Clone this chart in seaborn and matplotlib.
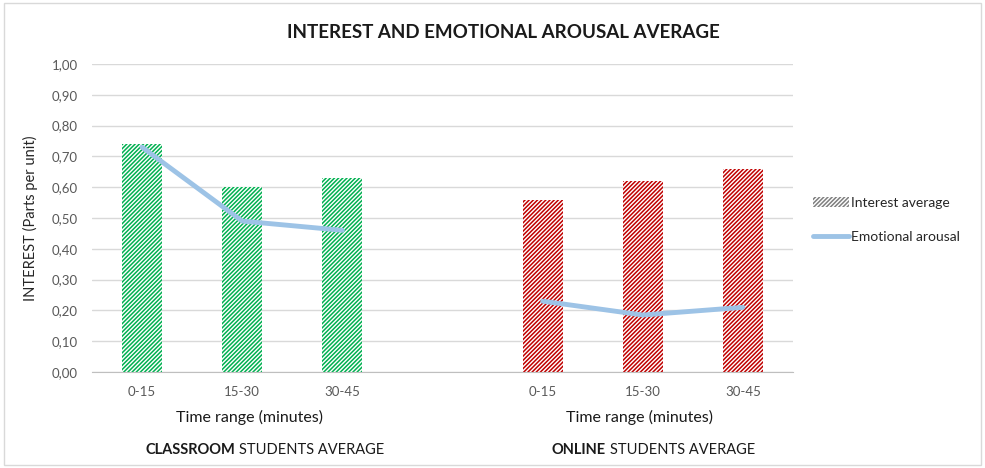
import pandas as pd
import matplotlib.pyplot as plt
import seaborn as sns
from matplotlib.patches import Patch, Rectangle
from matplotlib.lines import Line2D

# data
groups = ["Classroom", "Classroom", "Classroom", "Online", "Online", "Online"]
time_ranges = ["0-15", "15-30", "30-45", "0-15", "15-30", "30-45"]
interest = [0.74, 0.60, 0.63, 0.56, 0.62, 0.66]
arousal = [0.73, 0.49, 0.46, 0.23, 0.185, 0.21]
bar_colors = {"Classroom": "#00B050", "Online": "#C00000"}

df = pd.DataFrame({"group": groups, "time": time_ranges,
                   "interest": interest, "arousal": arousal})
df["slot"] = df["group"] + " " + df["time"]
# empty slot between the two groups
order = list(df["slot"][:3]) + ["gap"] + list(df["slot"][3:])
df["pos"] = [order.index(s) for s in df["slot"]]

sns.set_style("white")
plt.rcParams["font.family"] = ["Lato", "DejaVu Sans"]
plt.rcParams["hatch.linewidth"] = 1.1

fig = plt.figure(figsize=(9.85, 4.68), dpi=100)
ax = fig.add_axes([92 / 985, 1 - 372 / 468, (793 - 92) / 985, (372 - 64) / 468])

sns.barplot(data=df, x="slot", y="interest", order=order, width=0.4, ax=ax,
            color="white")
for bar, g in zip(ax.patches, df["group"]):
    bar.set_facecolor("white")
    bar.set_edgecolor(bar_colors[g])
    bar.set_hatch("////////")
    bar.set_linewidth(0)

sns.lineplot(data=df, x="pos", y="arousal", units="group", estimator=None,
             color="#9DC3E6", linewidth=3.5, ax=ax, legend=False)

ax.set_ylim(0, 1.0)
ax.set_xlim(-0.5, len(order) - 0.5)
ax.set_yticks([i / 10 for i in range(11)])
ax.set_yticklabels([f"{i / 10:.2f}".replace(".", ",") for i in range(11)],
                   color="#595959", fontsize=9.5)
ax.set_xticks(df["pos"])
ax.set_xticklabels(df["time"], color="#595959", fontsize=9.5)
ax.tick_params(axis="both", length=0, pad=10)
ax.grid(axis="y", color="#D9D9D9", linewidth=1)
ax.set_axisbelow(True)
for s in ["top", "right", "left"]:
    ax.spines[s].set_visible(False)
ax.spines["bottom"].set_color("#BFBFBF")
ax.set_xlabel("")
ax.set_ylabel("INTEREST (Parts per unit)", fontsize=10.5, color="#262626", labelpad=10)

fig.text(503 / 985, 1 - 33 / 468, "INTEREST AND EMOTIONAL AROUSAL AVERAGE",
         ha="center", va="center", fontsize=13.5, fontweight="bold", color="#1a1a1a")

for x in [250, 640]:
    fig.text(x / 985, 1 - 417 / 468, "Time range (minutes)", ha="center",
             va="center", fontsize=11.5, color="#1a1a1a")

for x, word in [(146, "CLASSROOM"), (552, "ONLINE")]:
    t = fig.text(x / 985, 1 - 450 / 468, word, ha="left", va="center",
                 fontsize=10.5, fontweight="bold", color="#1a1a1a")
    ax.annotate("STUDENTS AVERAGE", xy=(1, 0.5), xycoords=t, xytext=(2.5, 0),
                textcoords="offset points", va="center", ha="left",
                fontsize=10.5, color="#1a1a1a", annotation_clip=False)

handles = [Patch(facecolor="white", edgecolor="#7F7F7F", hatch="////////",
                 linewidth=0, label="Interest average"),
           Line2D([0], [0], color="#9DC3E6", linewidth=3.5, label="Emotional arousal")]
fig.legend(handles=handles, loc="center left", bbox_to_anchor=(800 / 985, 1 - 220 / 468),
           frameon=False, fontsize=10, labelspacing=1.6, handlelength=2.6,
           handletextpad=0.2, labelcolor="#262626")

fig.patches.append(Rectangle((0.004, 0.006), 0.992, 0.988, transform=fig.transFigure,
                             fill=False, edgecolor="#D9D9D9", linewidth=1))

fig.savefig("out.png", dpi=100)
